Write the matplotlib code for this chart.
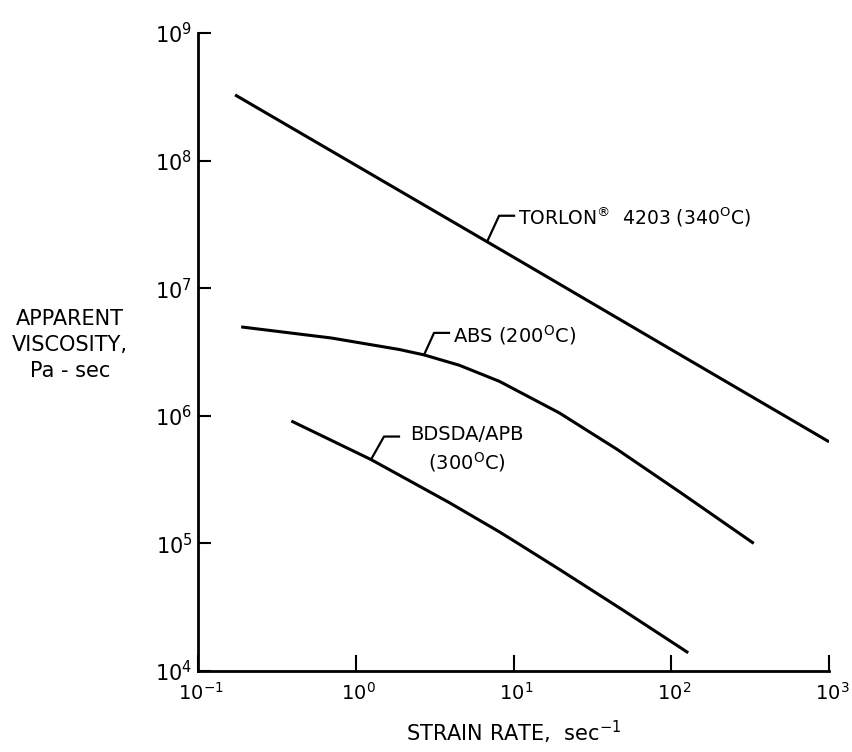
import matplotlib
matplotlib.use("Agg")
import matplotlib.pyplot as plt
import matplotlib.transforms as mtransforms
from matplotlib.ticker import FixedLocator, LogFormatterMathtext, NullLocator
import numpy as np

# strain rate (1/s) vs apparent viscosity (Pa-s)
torlon_rate = [0.172, 1.0, 10.0, 100.0, 1000.0]
torlon_visc = [3.27e8, 9.2e7, 1.75e7, 3.3e6, 6.25e5]

abs_rate = [0.188, 0.70, 1.88, 2.71, 4.53, 8.15, 19.6, 45.3, 114.0, 333.0]
abs_visc = [4.97e6, 4.07e6, 3.31e6, 3.0e6, 2.49e6, 1.86e6, 1.05e6, 5.46e5, 2.51e5, 1.0e5]

bdsda_rate = [0.391, 1.25, 3.91, 8.15, 10.4, 19.6, 49.4, 128.0]
bdsda_visc = [9.1e5, 4.54e5, 2.09e5, 1.23e5, 1.02e5, 6.24e4, 3.0e4, 1.39e4]

x_ticks = [1e-1, 1e0, 1e1, 1e2, 1e3]
y_ticks = [1e4, 1e5, 1e6, 1e7, 1e8, 1e9]

fig = plt.figure(figsize=(8.53, 7.52), dpi=100)
ax = fig.add_axes([0.232, 0.1077, 0.740, 0.8485])

lw = 2.2
ax.plot(torlon_rate, torlon_visc, color="black", lw=lw, solid_capstyle="butt")
ax.plot(abs_rate, abs_visc, color="black", lw=lw, solid_capstyle="butt")
ax.plot(bdsda_rate, bdsda_visc, color="black", lw=lw, solid_capstyle="butt")

ax.set_xscale("log")
ax.set_yscale("log")
ax.set_xlim(1e-1, 1e3)
ax.set_ylim(1e4, 1e9)

for s in ["top", "right"]:
    ax.spines[s].set_visible(False)
for s in ["left", "bottom"]:
    ax.spines[s].set_linewidth(2.0)

ax.xaxis.set_major_locator(FixedLocator(x_ticks))
ax.yaxis.set_major_locator(FixedLocator(y_ticks))
ax.xaxis.set_major_formatter(LogFormatterMathtext())
ax.yaxis.set_major_formatter(LogFormatterMathtext())
ax.xaxis.set_minor_locator(NullLocator())
ax.yaxis.set_minor_locator(NullLocator())
ax.tick_params(axis="x", direction="in", length=11.5, width=1.5, labelsize=14, pad=8)
ax.tick_params(axis="y", direction="in", length=9.5, width=1.5, labelsize=15, pad=4)

# nudge x labels so the "10" sits on the tick, exponent hanging right
shift = mtransforms.ScaledTranslation(2 / 72, 0, fig.dpi_scale_trans)
for lab in ax.get_xticklabels():
    lab.set_transform(lab.get_transform() + shift)

ax.set_xlabel(r"STRAIN RATE,  sec$^{-1}$", fontsize=15, labelpad=11)
fig.text(70 / 853, 1 - 345 / 752, "APPARENT\nVISCOSITY,\nPa - sec",
         ha="center", va="center", fontsize=15, linespacing=1.35)


def curve_point(xs, ys, x):
    return 10 ** np.interp(np.log10(x), np.log10(xs), np.log10(ys))


def leader(x, y, elbow, end, text, text_off, ha="left", size=14):
    px, py = ax.transData.transform((x, y))
    xs = [px, px + elbow[0], px + end[0]]
    ys = [py, py + elbow[1], py + end[1]]
    fig.add_artist(plt.Line2D(xs, ys, color="black", lw=1.6,
                              transform=mtransforms.IdentityTransform()))
    fig.text(px + text_off[0], py + text_off[1], text,
             transform=mtransforms.IdentityTransform(),
             ha=ha, va="center", fontsize=size, linespacing=1.3,
             multialignment="center")


fig.canvas.draw()
leader(6.8, curve_point(torlon_rate, torlon_visc, 6.8), (12, 26), (27, 26),
       r"TORLON$^{\circledR}$  4203 (340$^{\mathrm{O}}$C)", (31, 25), size=13.5)
leader(2.71, curve_point(abs_rate, abs_visc, 2.71), (10, 22), (25, 22),
       r"ABS (200$^{\mathrm{O}}$C)", (29, 20))
leader(1.25, curve_point(bdsda_rate, bdsda_visc, 1.25), (13, 23), (28, 23),
       "BDSDA/APB\n" + r"(300$^{\mathrm{O}}$C)", (96, 10), ha="center")

fig.savefig("out.png", dpi=100)
